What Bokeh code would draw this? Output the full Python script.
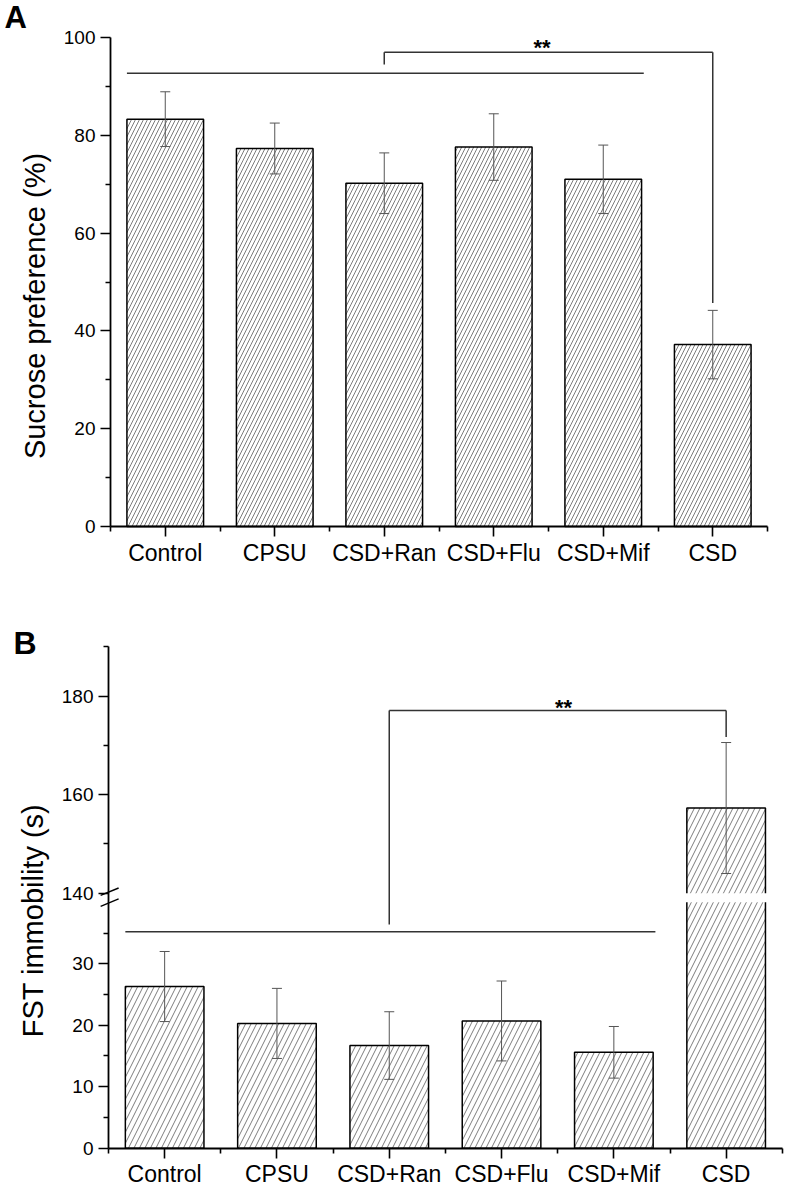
import numpy as np
from bokeh.plotting import figure
from bokeh.models import (Range1d, FixedTicker, Label, Whisker, TeeHead, ColumnDataSource)
from bokeh.layouts import column
from bokeh.embed import file_html
from bokeh.resources import INLINE

# ---------------- data ----------------
categories = ["Control", "CPSU", "CSD+Ran", "CSD+Flu", "CSD+Mif", "CSD"]
sucrose_mean = [83.3, 77.3, 70.2, 77.6, 71.0, 37.2]
sucrose_err = [5.6, 5.2, 6.2, 6.8, 7.0, 7.0]
fst_mean = [26.3, 20.3, 16.7, 20.7, 15.6, 157.3]
fst_err = [5.7, 5.7, 5.5, 6.5, 4.2, 13.3]

a_yticks = [0, 20, 40, 60, 80, 100]
a_yminor = [10, 30, 50, 70, 90]
b_yticks = [0, 10, 20, 30, 140, 160, 180]
b_yminor = [5, 15, 25, 35, 150, 170, 190]

# significance annotations: [group line y, bracket top y, left leg end, right leg end, star baseline y]
a_sig = [92.7, 97.0, 94.5, 45.7, 96.1]
b_sig = [35.2, 177.1, 36.4, 171.7, 176.0]
sig_from, sig_to = 3, 6          # bracket between CSD+Ran and CSD
group_span = [0.65, 5.37]        # line over Control..CSD+Mif

# broken axis for panel B
LOW_MAX, HIGH_MIN, HIGH_MAX = 40.0, 140.0, 190.0
GAP = 1.48       # gap in lower-segment units
RATIO = 0.8012   # upper segment scale relative to lower


def disp(v):
    v = np.asarray(v, dtype=float)
    return np.where(v <= LOW_MAX, v, LOW_MAX + GAP + (v - HIGH_MIN) * RATIO)


# ---------------- layout constants (pixels) ----------------
W = 788
A_H, B_H = 594, 593
A_AXIS_X, A_CAT_PX, A_ZERO_Y, A_UNIT_PX = 110.0, 109.5, 526.0, 4.89
B_AXIS_X, B_CAT_PX, B_ZERO_Y, B_UNIT_PX = 108.0, 112.3, 1147.7 - A_H, 6.147
BASE_SHIFT = 0.4   # empirical baseline correction (fraction of font size)

FONT = "Liberation Sans"
xs = list(range(1, len(categories) + 1))
BAR_W = 0.7
ERR_COLOR = "#555555"
LINE_COLOR = "#333333"


def make_fig(axis_x, cat_px, zero_y, unit_px, h):
    xr = Range1d(0.5 - axis_x / cat_px, 0.5 + (W - axis_x) / cat_px)
    yr = Range1d((zero_y - h) / unit_px, zero_y / unit_px)
    p = figure(width=W, height=h, output_backend="svg", toolbar_location=None,
               x_range=xr, y_range=yr, title=None,
               min_border=0, min_border_left=0, min_border_right=0,
               min_border_top=0, min_border_bottom=0)
    p.xgrid.visible = False
    p.ygrid.visible = False
    p.outline_line_color = None
    p.background_fill_color = "white"
    p.border_fill_color = "white"
    return p


def style(p, yt, ym, ytop, overrides=None):
    p.xaxis.ticker = FixedTicker(ticks=xs, minor_ticks=[x - 0.5 for x in xs] + [xs[-1] + 0.5])
    p.xaxis.major_label_overrides = {x: c for x, c in zip(xs, categories)}
    p.xaxis.fixed_location = 0
    p.xaxis.bounds = (0.5, len(xs) + 0.5)
    p.yaxis.ticker = FixedTicker(ticks=yt, minor_ticks=ym)
    p.yaxis.fixed_location = 0.5
    p.yaxis.bounds = (0, ytop)
    if overrides:
        p.yaxis.major_label_overrides = overrides
    for ax in (p.xaxis[0], p.yaxis[0]):
        ax.axis_line_width = 1.8
        ax.axis_line_color = "black"
        ax.major_tick_line_color = "black"
        ax.minor_tick_line_color = "black"
        ax.major_tick_line_width = 1.6
        ax.minor_tick_line_width = 1.6
        ax.major_tick_in = 0
        ax.major_tick_out = 10
        ax.minor_tick_in = 0
        ax.minor_tick_out = 5
        ax.major_label_text_font = FONT
        ax.major_label_text_color = "black"
    p.xaxis.major_label_text_font_size = "23px"
    p.xaxis.major_label_standoff = 3
    p.yaxis.major_label_text_font_size = "19px"
    p.yaxis.major_label_standoff = 5


def text_label(p, px, py, to_x, to_y, text, size, bold=False, rotated=False, align="left"):
    """Place a label with its baseline at page pixel (px, py)."""
    shift = BASE_SHIFT * size
    if rotated:
        x, y, angle = to_x(px - shift), to_y(py), np.pi / 2
    else:
        x, y, angle = to_x(px), to_y(py - shift), 0.0
    p.add_layout(Label(x=x, y=y, text=text, angle=angle, text_align=align,
                       text_baseline="alphabetic", text_font=FONT, text_font_size=f"{size}px",
                       text_font_style="bold" if bold else "normal", text_color="black"))


# ---------------- panel A ----------------
pA = make_fig(A_AXIS_X, A_CAT_PX, A_ZERO_Y, A_UNIT_PX, A_H)
style(pA, a_yticks, a_yminor, 100)

srcA = ColumnDataSource(dict(
    x=xs, top=sucrose_mean,
    upper=[m + e for m, e in zip(sucrose_mean, sucrose_err)],
    lower=[m - e for m, e in zip(sucrose_mean, sucrose_err)]))
pA.vbar(x="x", top="top", width=BAR_W, source=srcA, fill_color="white",
        line_color="black", line_width=1.5, hatch_pattern="/", hatch_scale=8,
        hatch_color="#444444", hatch_weight=0.7)
pA.add_layout(Whisker(source=srcA, base="x", upper="upper", lower="lower",
                      line_color=ERR_COLOR, line_width=1, level="annotation",
                      upper_head=TeeHead(size=10, line_color=ERR_COLOR, line_width=1),
                      lower_head=TeeHead(size=10, line_color=ERR_COLOR, line_width=1)))
pA.segment(x0=[group_span[0], sig_from, sig_from, sig_to],
           y0=[a_sig[0], a_sig[1], a_sig[1], a_sig[1]],
           x1=[group_span[1], sig_to, sig_from, sig_to],
           y1=[a_sig[0], a_sig[1], a_sig[2], a_sig[3]],
           line_color=LINE_COLOR, line_width=1.5)


def ax_px(px):
    return 0.5 + (px - A_AXIS_X) / A_CAT_PX


def ay_px(py):
    return (A_ZERO_Y - py) / A_UNIT_PX


star_a_py = A_ZERO_Y - a_sig[4] * A_UNIT_PX
text_label(pA, 541.5, star_a_py, ax_px, ay_px, "**", 22, bold=True, align="center")
text_label(pA, 4, 29, ax_px, ay_px, "A", 31, bold=True)
text_label(pA, 46, 305.5, ax_px, ay_px, "Sucrose preference (%)", 29, rotated=True, align="center")

# ---------------- panel B ----------------
b_tick_pos = [round(float(disp(t)), 4) for t in b_yticks]
b_minor_pos = [round(float(disp(t)), 4) for t in b_yminor]
b_over = {pos: str(t) for pos, t in zip(b_tick_pos, b_yticks)}

pB = make_fig(B_AXIS_X, B_CAT_PX, B_ZERO_Y, B_UNIT_PX, B_H)
style(pB, b_tick_pos, b_minor_pos, float(disp(HIGH_MAX)), b_over)

srcB = ColumnDataSource(dict(
    x=xs, top=disp(fst_mean),
    upper=disp([m + e for m, e in zip(fst_mean, fst_err)]),
    lower=disp([m - e for m, e in zip(fst_mean, fst_err)])))
pB.vbar(x="x", top="top", width=BAR_W, source=srcB, fill_color="white",
        line_color="black", line_width=1.5, hatch_pattern="/", hatch_scale=11,
        hatch_color="#444444", hatch_weight=0.7)
# white gap through the broken bar(s)
broken = [x for x, m in zip(xs, fst_mean) if m > HIGH_MIN]
pB.quad(left=[x - BAR_W / 2 - 0.03 for x in broken], right=[x + BAR_W / 2 + 0.03 for x in broken],
        bottom=[LOW_MAX] * len(broken), top=[LOW_MAX + GAP] * len(broken),
        fill_color="white", line_color=None)
pB.add_layout(Whisker(source=srcB, base="x", upper="upper", lower="lower",
                      line_color=ERR_COLOR, line_width=1, level="annotation",
                      upper_head=TeeHead(size=10, line_color=ERR_COLOR, line_width=1),
                      lower_head=TeeHead(size=10, line_color=ERR_COLOR, line_width=1)))
pB.segment(x0=[group_span[0], sig_from, sig_from, sig_to],
           y0=list(disp([b_sig[0], b_sig[1], b_sig[1], b_sig[1]])),
           x1=[group_span[1], sig_to, sig_from, sig_to],
           y1=list(disp([b_sig[0], b_sig[1], b_sig[2], b_sig[3]])),
           line_color=LINE_COLOR, line_width=1.5)
# axis break marks (two short slashes across the y axis)
brk_y = [LOW_MAX + GAP + 0.25, LOW_MAX - 0.05]
pB.segment(x0=[0.43] * 2, y0=[y - 0.6 for y in brk_y],
           x1=[0.59] * 2, y1=[y + 0.6 for y in brk_y],
           line_color="black", line_width=1.4)


def bx_px(px):
    return 0.5 + (px - B_AXIS_X) / B_CAT_PX


def by_px(py):
    return (B_ZERO_Y + A_H - py) / B_UNIT_PX


star_b_py = B_ZERO_Y + A_H - float(disp(b_sig[4])) * B_UNIT_PX
text_label(pB, 563, star_b_py, bx_px, by_px, "**", 22, bold=True, align="center")
text_label(pB, 13, 655, bx_px, by_px, "B", 32, bold=True)
text_label(pB, 44, 920, bx_px, by_px, "FST immobility (s)", 29, rotated=True, align="center")

layout = column(pA, pB, spacing=0)
open("out.html", "w").write(file_html(layout, INLINE))
